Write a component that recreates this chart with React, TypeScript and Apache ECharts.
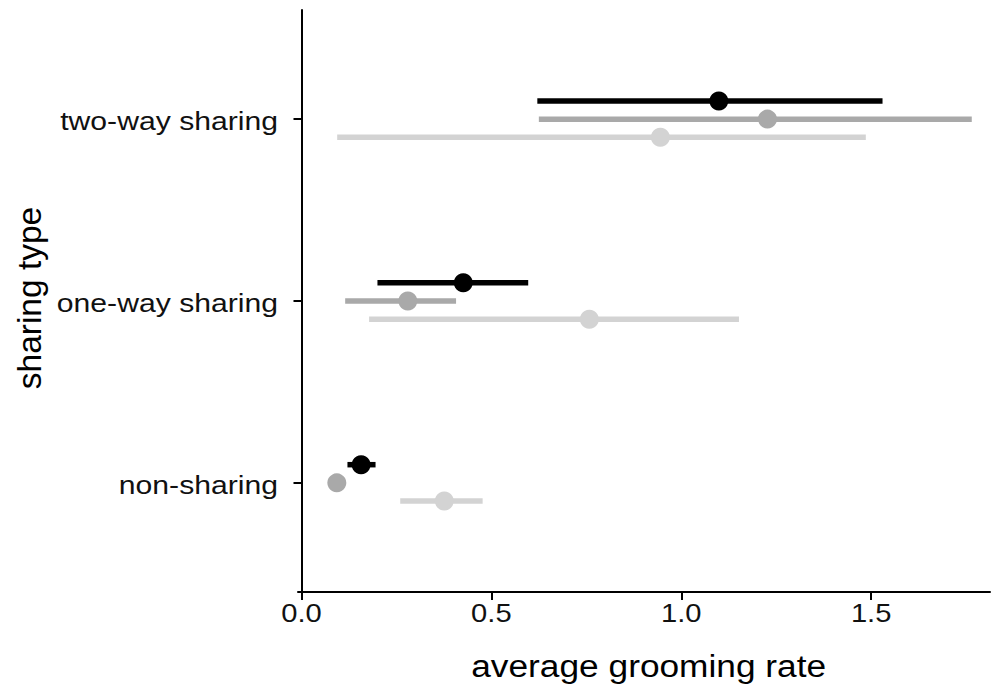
import React, { useEffect, useRef } from "react";
import * as echarts from "echarts";

const categories = ["non-sharing", "one-way sharing", "two-way sharing"];
const xTicks = [0, 0.5, 1.0, 1.5];
const yTicks = [1, 2, 3];

const blackMean = [0.157, 0.426, 1.099];
const blackLow = [0.121, 0.2, 0.621];
const blackHigh = [0.195, 0.597, 1.53];

const darkMean = [0.093, 0.28, 1.227];
const darkLow = [0.086, 0.115, 0.625];
const darkHigh = [0.1, 0.407, 1.765];

const lightMean = [0.376, 0.758, 0.945];
const lightLow = [0.26, 0.178, 0.094];
const lightHigh = [0.477, 1.152, 1.486];

const FONT = "'Liberation Sans', Arial, Helvetica, sans-serif";
const X_MIN = -0.0092;
const Y_MIN = 0.4;

type Grp = { name: string; mean: number[]; low: number[]; high: number[]; color: string; offset: number };

const groups: Grp[] = [
  { name: "light", mean: lightMean, low: lightLow, high: lightHigh, color: "#D3D3D3", offset: -0.1 },
  { name: "dark", mean: darkMean, low: darkLow, high: darkHigh, color: "#A9A9A9", offset: 0 },
  { name: "black", mean: blackMean, low: blackLow, high: blackHigh, color: "#000000", offset: 0.1 },
];

export default function App() {
  const ref = useRef<HTMLDivElement>(null);
  useEffect(() => {
    if (!ref.current) return;
    const chart = echarts.init(ref.current, null, { renderer: "svg" });
    const series: any[] = [];
    groups.forEach((g) => {
      series.push({
        type: "custom",
        name: g.name + " range",
        z: 2,
        data: categories.map((_, i) => [g.low[i], g.high[i], i + 1 + g.offset]),
        renderItem: (params: any, api: any) => {
          const p1 = api.coord([api.value(0), api.value(2)]);
          const p2 = api.coord([api.value(1), api.value(2)]);
          return {
            type: "line",
            shape: { x1: p1[0], y1: p1[1], x2: p2[0], y2: p2[1] },
            style: { stroke: g.color, lineWidth: 5.5, lineCap: "butt" },
          };
        },
      });
      series.push({
        type: "scatter",
        name: g.name,
        z: 3,
        symbol: "circle",
        symbolSize: 19,
        itemStyle: { color: g.color, opacity: 1 },
        data: categories.map((_, i) => [g.mean[i], i + 1 + g.offset]),
      });
    });
    chart.setOption({
      animation: false,
      grid: { left: 298, right: 1, top: 10, bottom: 98, containLabel: false },
      xAxis: {
        type: "value",
        min: X_MIN,
        max: 1.813,
        splitLine: { show: false },
        axisLine: { show: true, lineStyle: { color: "#000", width: 2 } },
        axisTick: { show: true, customValues: xTicks, length: 8, lineStyle: { color: "#000", width: 2 } },
        axisLabel: { show: false },
      },
      yAxis: {
        type: "value",
        min: Y_MIN,
        max: 3.6,
        splitLine: { show: false },
        axisLine: { show: true, lineStyle: { color: "#000", width: 2 } },
        axisTick: { show: true, customValues: yTicks, length: 8, lineStyle: { color: "#000", width: 2 } },
        axisLabel: { show: false },
      },
      series,
    });

    const px = (x: number, y: number) => chart.convertToPixel({ gridIndex: 0 }, [x, y]) as number[];
    const bottomY = px(0, Y_MIN)[1];
    const leftX = px(X_MIN, 1)[0];
    const graphics: any[] = [];
    xTicks.forEach((v) => {
      const p = px(v, Y_MIN);
      graphics.push({
        type: "text",
        x: p[0],
        y: bottomY + 21,
        scaleX: 1.1,
        style: {
          text: v.toFixed(1),
          fontSize: 26.5,
          fontFamily: FONT,
          fill: "#111",
          textAlign: "center",
          textVerticalAlign: "middle",
        },
      });
    });
    yTicks.forEach((v) => {
      const p = px(X_MIN, v);
      graphics.push({
        type: "text",
        x: leftX - 20,
        y: p[1] + 2,
        scaleX: 1.16,
        style: {
          text: categories[v - 1],
          fontSize: 26,
          fontFamily: FONT,
          fill: "#111",
          textAlign: "right",
          textVerticalAlign: "middle",
        },
      });
    });
    graphics.push({
      type: "text",
      x: 648.7,
      y: 666,
      scaleX: 1.12,
      style: {
        text: "average grooming rate",
        fontSize: 31.5,
        fontFamily: FONT,
        fill: "#000",
        textAlign: "center",
        textVerticalAlign: "middle",
      },
    });
    graphics.push({
      type: "text",
      x: 29,
      y: 298,
      rotation: Math.PI / 2,
      style: {
        text: "sharing type",
        fontSize: 33.5,
        fontFamily: FONT,
        fill: "#000",
        textAlign: "center",
        textVerticalAlign: "middle",
      },
    });
    chart.setOption({ graphic: graphics });
    return () => chart.dispose();
  }, []);
  return <div ref={ref} style={{ position: "absolute", left: 0, top: 0, width: 991, height: 690 }} />;
}
